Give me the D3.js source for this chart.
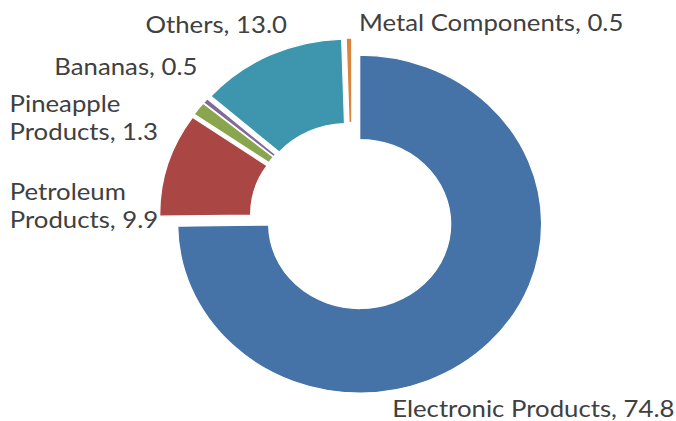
<!DOCTYPE html>
<html>
<head>
<meta charset="utf-8">
<script src="https://cdn.jsdelivr.net/npm/d3@7"></script>
<style>
  html, body { margin: 0; padding: 0; background: #fff; }
  svg text { font-family: "Lato", "Open Sans", sans-serif; fill: #404040; }
</style>
</head>
<body>
<svg id="chart" width="676" height="421"></svg>
<script>
// share of exports, clockwise from 12 o'clock
var categories = ["Electronic Products", "Petroleum Products", "Pineapple Products", "Bananas", "Others", "Metal Components"];
var shares = [74.8, 9.9, 1.3, 0.5, 13.0, 0.5];
var colors = ["#4572A7", "#AA4643", "#89A54E", "#80699B", "#3D96AE", "#DB843D"];

var data = categories.map(function(c, i) {
	return { name: c, value: shares[i], color: colors[i] };
});

var svg = d3.select("#chart");

// the original picture is a bit wider than tall
var cx = 352, cy = 217, stretch = 1.077;
var outerR = 169, innerR = 84.5, explode = 10;

var pie = d3.pie()
	.value(function(d) { return d.value; })
	.sort(null);

var arc = d3.arc()
	.innerRadius(innerR)
	.outerRadius(outerR);

var arcs = pie(data);

var g = svg.append("g")
	.attr("transform", "translate(" + cx + "," + cy + ") scale(" + stretch + ",1)");

var mid = function(d) { return (d.startAngle + d.endAngle) / 2; };

g.selectAll("path.slice")
	.data(arcs)
	.enter().append("path")
	.attr("class", "slice")
	.attr("d", arc)
	.attr("fill", function(d) { return d.data.color; })
	.attr("stroke", "#fff")
	.attr("stroke-width", 1.2)
	.attr("transform", function(d) {
		var a = mid(d);
		return "translate(" + [Math.sin(a) * explode, -Math.cos(a) * explode] + ")";
	});

// label nudges from the exploded outer edge (Excel best-fit placement)
var labelLayout = {
	"Electronic Products": { dx: -97, dy: 74, anchor: "start", lines: ["Electronic Products, 74.8"] },
	"Petroleum Products": { dx: -158, dy: 36, anchor: "start", lines: ["Petroleum", "Products, 9.9"] },
	"Pineapple Products": { dx: -189, dy: 3, anchor: "start", lines: ["Pineapple", "Products, 1.3"] },
	"Bananas": { dx: -8, dy: -26, anchor: "end", lines: ["Bananas, 0.5"] },
	"Others": { dx: 17, dy: -22, anchor: "end", lines: ["Others, 13.0"] },
	"Metal Components": { dx: 10, dy: -7, anchor: "start", lines: ["Metal Components, 0.5"] }
};

var lineHeight = 28;
// the source font (Century Gothic) runs wider than Lato
var textStretch = 1.12;

var labels = svg.append("g").attr("class", "labels");

labels.selectAll("text")
	.data(arcs)
	.enter().append("text")
	.attr("font-size", 23)
	.attr("text-anchor", function(d) { return labelLayout[d.data.name].anchor; })
	.attr("transform", function(d) {
		var a = mid(d);
		var r = outerR + explode;
		var lay = labelLayout[d.data.name];
		var x = cx + Math.sin(a) * r * stretch + lay.dx;
		var y = cy - Math.cos(a) * r + lay.dy;
		return "translate(" + [x, y] + ") scale(" + textStretch + ",1)";
	})
	.each(function(d) {
		var t = d3.select(this);
		labelLayout[d.data.name].lines.forEach(function(line, i) {
			t.append("tspan")
				.attr("x", 0)
				.attr("y", i * lineHeight)
				.text(line);
		});
	});
</script>
</body>
</html>
